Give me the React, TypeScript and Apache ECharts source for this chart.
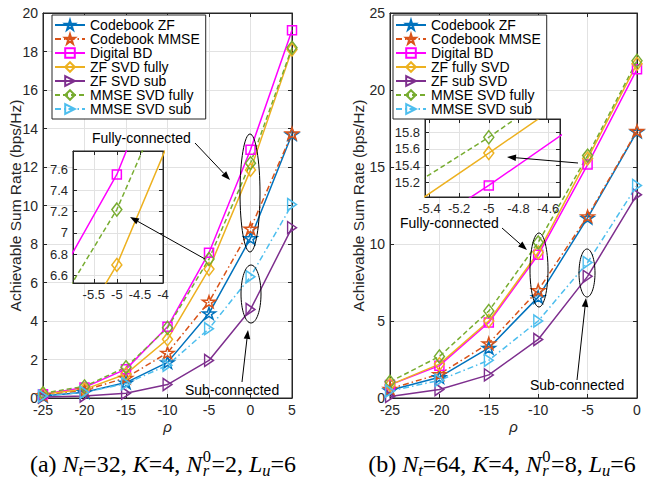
import React, { useEffect, useRef } from 'react';
import * as echarts from 'echarts';

// ---------- data ----------
const xA = [-25, -20, -15, -10, -5, 0, 5];
const xB = [-25, -20, -15, -10, -5, 0];

const namesA = ['Codebook ZF', 'Codebook MMSE', 'Digital BD', 'ZF SVD fully', 'ZF SVD sub', 'MMSE SVD fully', 'MMSE SVD sub'];
const namesB = ['Codebook ZF', 'Codebook MMSE', 'Digital BD', 'ZF fully SVD', 'ZF sub SVD', 'MMSE SVD fully', 'MMSE SVD sub'];

// (a) Nt=32
const aCodebookZF = [0.1, 0.3, 0.8, 1.85, 4.4, 8.3, 13.7];
const aCodebookMMSE = [0.15, 0.4, 1.05, 2.35, 5.0, 8.8, 13.75];
const aDigitalBD = [0.2, 0.55, 1.5, 3.7, 7.55, 12.9, 19.1];
const aZFSVDFully = [0.2, 0.45, 1.25, 3.05, 6.7, 11.85, 18.1];
const aZFSVDSub = [0.05, 0.1, 0.25, 0.7, 1.95, 4.6, 8.85];
const aMMSESVDFully = [0.25, 0.6, 1.6, 3.65, 7.22, 12.2, 18.2];
const aMMSESVDSub = [0.1, 0.3, 0.75, 1.7, 3.6, 6.3, 10.05];

// (b) Nt=64
const bCodebookZF = [0.5, 1.35, 3.25, 6.55, 11.7, 17.3];
const bCodebookMMSE = [0.6, 1.55, 3.55, 7.0, 11.8, 17.35];
const bDigitalBD = [0.85, 2.1, 4.9, 9.3, 15.16, 21.35];
const bZFFullySVD = [0.85, 2.2, 5.0, 9.45, 15.55, 21.7];
const bZFSubSVD = [0.1, 0.55, 1.5, 3.8, 7.9, 13.2];
const bMMSESVDFully = [1.05, 2.7, 5.65, 10.1, 15.74, 21.9];
const bMMSESVDSub = [0.45, 1.15, 2.45, 5.0, 8.8, 13.8];

const seriesA = [aCodebookZF, aCodebookMMSE, aDigitalBD, aZFSVDFully, aZFSVDSub, aMMSESVDFully, aMMSESVDSub];
const seriesB = [bCodebookZF, bCodebookMMSE, bDigitalBD, bZFFullySVD, bZFSubSVD, bMMSESVDFully, bMMSESVDSub];
const insetIdx = [2, 3, 5];

// ticks / ranges
const aTicksY = { min: 0, max: 20, interval: 2 };
const bTicksY = { min: 0, max: 25, interval: 5 };
const aInsetXTicks = [-5.5, -5, -4.5, -4];
const aInsetYTicks = [6.6, 6.8, 7, 7.2, 7.4, 7.6];
const bInsetXTicks = [-5.4, -5.2, -5, -4.8, -4.6];
const bInsetYTicks = [15.2, 15.4, 15.6, 15.8];
const aInsetX = { min: -5.95, max: -4, ticks: aInsetXTicks };
const aInsetY = { min: 6.53, max: 7.77, ticks: aInsetYTicks };
const bInsetX = { min: -5.43, max: -4.52, ticks: bInsetXTicks };
const bInsetY = { min: 15.02, max: 15.96, ticks: bInsetYTicks };

const yName = 'Achievable Sum Rate (bps/Hz)';

// ---------- styles ----------
const STAR = 'path://M50,0L61.2,34.5L97.6,34.5L68.2,55.9L79.4,90.5L50,69.1L20.6,90.5L31.8,55.9L2.4,34.5L38.8,34.5Z';
const TRI = 'path://M0,0L88,50L0,100Z';
const COLORS = ['#0072BD', '#D95319', '#FF00FF', '#EDB120', '#7E2F8E', '#77AC30', '#4DBEEE'];
const DASHDOT = [6, 3, 1.5, 3];
const LINE_TYPES: any[] = ['solid', DASHDOT, 'solid', 'solid', 'solid', [5, 3], DASHDOT];
const SYMBOLS = [STAR, STAR, 'rect', 'diamond', TRI, 'diamond', TRI];
const SIZES: any[] = [[13, 12.4], [13, 12.4], 9, [10, 13], [10, 12], [10, 13], [10, 12]];
const SANS = 'Liberation Sans';
const SERIF = 'Liberation Serif';
const AX = '#262626';
const GRIDC = '#e2e2e2';

function mkSeries(name: string, xs: number[], ys: number[], i: number, xi: number, yi: number, z: number) {
  return {
    type: 'line', name, xAxisIndex: xi, yAxisIndex: yi, z,
    data: xs.map((x, k) => [x, ys[k]]),
    symbol: SYMBOLS[i], symbolSize: SIZES[i], symbolKeepAspect: true, showAllSymbol: true,
    color: COLORS[i],
    lineStyle: { color: COLORS[i], width: 1.5, type: LINE_TYPES[i] },
    itemStyle: { color: 'rgba(255,255,255,0)', borderColor: COLORS[i], borderWidth: 1.5 },
    emphasis: { disabled: true }, clip: true, silent: true,
  };
}

function mkAxis(kind: 'x' | 'y', grid: number, r: any, fs: number, main: boolean, z: number, extra: any = {}) {
  const ax: any = {
    type: 'value', gridIndex: grid, min: r.min, max: r.max, z,
    position: kind === 'x' ? (main ? 'bottom' : 'top') : (main ? 'left' : 'right'),
    axisLine: { show: true, onZero: false, lineStyle: { color: AX, width: 1 } },
    axisTick: { show: true, inside: true, length: 4, lineStyle: { color: AX } },
    axisLabel: { show: main, color: AX, fontSize: fs, fontFamily: SANS, margin: 5 },
    splitLine: { show: main, lineStyle: { color: GRIDC, width: 1 } },
    nameMoveOverlap: false,
    ...extra,
  };
  if (r.interval != null) ax.interval = r.interval;
  if (r.ticks) {
    ax.axisTick.customValues = r.ticks;
    ax.axisLabel.customValues = r.ticks;
  }
  return ax;
}

function arrow(x1: number, y1: number, x2: number, y2: number) {
  const dx = x2 - x1, dy = y2 - y1, L = Math.hypot(dx, dy), ux = dx / L, uy = dy / L;
  const hl = 9, hw = 3.3;
  const bx = x2 - ux * hl, by = y2 - uy * hl;
  return [
    { type: 'line', z: 30, silent: true, shape: { x1, y1, x2: bx, y2: by }, style: { stroke: '#000', lineWidth: 1 } },
    { type: 'polygon', z: 30, silent: true, shape: { points: [[x2, y2], [bx - uy * hw, by + ux * hw], [bx + uy * hw, by - ux * hw]] }, style: { fill: '#000' } },
  ];
}
function ellipse(cx: number, cy: number, rx: number, ry: number) {
  return { type: 'ellipse', z: 30, silent: true, shape: { cx, cy, rx, ry }, style: { fill: 'none', stroke: '#000', lineWidth: 1 } };
}
function label(text: string, x: number, y: number) {
  return { type: 'text', z: 30, silent: true, x, y, style: { text, fontSize: 14, fontFamily: SANS, fill: '#000', align: 'left', verticalAlign: 'middle', textAlign: 'left', textVerticalAlign: 'middle' } };
}

// caption pieces: kind n = normal, i = italic, sub, stack
function caption(pieces: any[], cx: number, cy: number) {
  const FS = 24, SS = 16.5;
  const ctx = document.createElement('canvas').getContext('2d') as CanvasRenderingContext2D;
  const w = (t: string, s: number, it: boolean) => { ctx.font = `${it ? 'italic ' : ''}${s}px "${SERIF}"`; return ctx.measureText(t).width; };
  const widths = pieces.map((p) => p.k === 'stack' ? Math.max(w(p.t[0], SS, false), w(p.t[1], SS, true)) + 1 : w(p.t, p.k === 'n' ? FS : p.k === 'i' ? FS : SS, p.k !== 'n'));
  const total = widths.reduce((a, b) => a + b, 0);
  let x = cx - total / 2;
  const els: any[] = [];
  const txt = (t: string, xx: number, yy: number, s: number, it: boolean) => ({
    type: 'text', z: 30, silent: true, x: xx, y: yy,
    style: { text: t, fontSize: s, fontFamily: SERIF, fontStyle: it ? 'italic' : 'normal', fill: '#000', align: 'left', verticalAlign: 'middle', textAlign: 'left', textVerticalAlign: 'middle' },
  });
  pieces.forEach((p, k) => {
    if (p.k === 'n') els.push(txt(p.t, x, cy, FS, false));
    else if (p.k === 'i') els.push(txt(p.t, x, cy, FS, true));
    else if (p.k === 'sub') els.push(txt(p.t, x, cy + 6, SS, true));
    else {
      els.push(txt(p.t[0], x + 0.5, cy - 8, SS, false));
      els.push(txt(p.t[1], x + 0.5, cy + 6, SS, true));
    }
    x += widths[k];
  });
  return els;
}

const capA = [
  { k: 'n', t: '(a) ' }, { k: 'i', t: 'N' }, { k: 'sub', t: 't' }, { k: 'n', t: '=32, ' }, { k: 'i', t: 'K' }, { k: 'n', t: '=4, ' },
  { k: 'i', t: 'N' }, { k: 'stack', t: ['0', 'r'] }, { k: 'n', t: '=2, ' }, { k: 'i', t: 'L' }, { k: 'sub', t: 'u' }, { k: 'n', t: '=6' },
];
const capB = [
  { k: 'n', t: '(b) ' }, { k: 'i', t: 'N' }, { k: 'sub', t: 't' }, { k: 'n', t: '=64, ' }, { k: 'i', t: 'K' }, { k: 'n', t: '=4, ' },
  { k: 'i', t: 'N' }, { k: 'stack', t: ['0', 'r'] }, { k: 'n', t: '=8, ' }, { k: 'i', t: 'L' }, { k: 'sub', t: 'u' }, { k: 'n', t: '=6' },
];

function buildOption() {
  const xNameStyle = { nameTextStyle: { fontFamily: SANS, fontStyle: 'italic', fontSize: 15, color: AX } };
  const yNameStyle = (gap: number) => ({ name: yName, nameLocation: 'middle', nameGap: gap, nameTextStyle: { fontFamily: SANS, fontSize: 15.5, color: AX } });

  const xAxis = [
    mkAxis('x', 0, { min: -25, max: 5, interval: 5 }, 14, true, 0, { name: 'ρ', nameLocation: 'middle', nameGap: 21, ...xNameStyle }),
    mkAxis('x', 0, { min: -25, max: 5, interval: 5 }, 14, false, 0),
    mkAxis('x', 1, { min: -25, max: 0, interval: 5 }, 14, true, 0, { name: 'ρ', nameLocation: 'middle', nameGap: 21, ...xNameStyle }),
    mkAxis('x', 1, { min: -25, max: 0, interval: 5 }, 14, false, 0),
    mkAxis('x', 2, aInsetX, 13, true, 12),
    mkAxis('x', 2, aInsetX, 13, false, 12),
    mkAxis('x', 3, bInsetX, 13, true, 12),
    mkAxis('x', 3, bInsetX, 13, false, 12),
  ];
  const yAxis = [
    mkAxis('y', 0, aTicksY, 14, true, 0, yNameStyle(20)),
    mkAxis('y', 0, aTicksY, 14, false, 0),
    mkAxis('y', 1, bTicksY, 14, true, 0, yNameStyle(24)),
    mkAxis('y', 1, bTicksY, 14, false, 0),
    mkAxis('y', 2, aInsetY, 13, true, 12),
    mkAxis('y', 2, aInsetY, 13, false, 12),
    mkAxis('y', 3, bInsetY, 13, true, 12),
    mkAxis('y', 3, bInsetY, 13, false, 12),
  ];

  const series: any[] = [];
  seriesA.forEach((ys, i) => series.push(mkSeries(namesA[i], xA, ys, i, 0, 0, 2)));
  seriesB.forEach((ys, i) => series.push(mkSeries(namesB[i], xB, ys, i, 2, 2, 2)));
  insetIdx.forEach((i) => series.push(mkSeries('inset a ' + namesA[i], xA, seriesA[i], i, 4, 4, 14)));
  insetIdx.forEach((i) => series.push(mkSeries('inset b ' + namesB[i], xB, seriesB[i], i, 6, 6, 14)));

  const legendCommon = {
    orient: 'vertical', itemWidth: 30, itemHeight: 12, itemGap: 0, padding: [3, 6, 3, 2],
    backgroundColor: '#fff', borderColor: AX, borderWidth: 1, selectedMode: false, z: 20,
    textStyle: { fontFamily: SANS, fontSize: 14, color: '#000', lineHeight: 14 },
  };

  const graphic = [
    { type: 'rect', z: 11, silent: true, shape: { x: 73, y: 151, width: 90, height: 132 }, style: { fill: '#fff', stroke: AX, lineWidth: 1 } },
    { type: 'rect', z: 11, silent: true, shape: { x: 425, y: 119, width: 135, height: 78 }, style: { fill: '#fff', stroke: AX, lineWidth: 1 } },
    ellipse(250, 193, 10, 59), ellipse(251, 294, 10, 29),
    ellipse(539, 270, 9, 37), ellipse(587, 273, 8, 24),
    ...arrow(195, 143, 230, 180), ...arrow(205, 259, 130, 217), ...arrow(242, 382, 248, 330),
    ...arrow(502, 228, 527, 250), ...arrow(578, 163, 507, 157), ...arrow(577, 380, 586, 298),
    label('Fully-connected', 92, 138), label('Sub-connected', 185, 390),
    label('Fully-connected', 400, 223), label('Sub-connected', 530, 385),
    ...caption(capA, 163, 464), ...caption(capB, 502, 464),
  ];

  return {
    animation: false,
    backgroundColor: '#fff',
    grid: [
      { left: 43, top: 13, width: 249, height: 385, show: true, borderColor: AX, borderWidth: 1, backgroundColor: 'transparent', outerBoundsMode: 'none', containLabel: false },
      { left: 390, top: 13, width: 247, height: 385, show: true, borderColor: AX, borderWidth: 1, backgroundColor: 'transparent', outerBoundsMode: 'none', containLabel: false },
      { left: 73, top: 151, width: 90, height: 132, outerBoundsMode: 'none', containLabel: false, z: 12 },
      { left: 425, top: 119, width: 135, height: 78, outerBoundsMode: 'none', containLabel: false, z: 12 },
    ],
    legend: [
      { ...legendCommon, left: 52, top: 15, data: namesA },
      { ...legendCommon, left: 393, top: 15, data: namesB },
    ],
    xAxis, yAxis, series, graphic,
  };
}

export default function App() {
  const ref = useRef<HTMLDivElement>(null);
  useEffect(() => {
    document.body.style.margin = '0';
    const chart = echarts.init(ref.current as HTMLDivElement, null, { renderer: 'svg' });
    chart.setOption(buildOption() as any);
    return () => chart.dispose();
  }, []);
  return <div ref={ref} style={{ width: 652, height: 486 }} />;
}
